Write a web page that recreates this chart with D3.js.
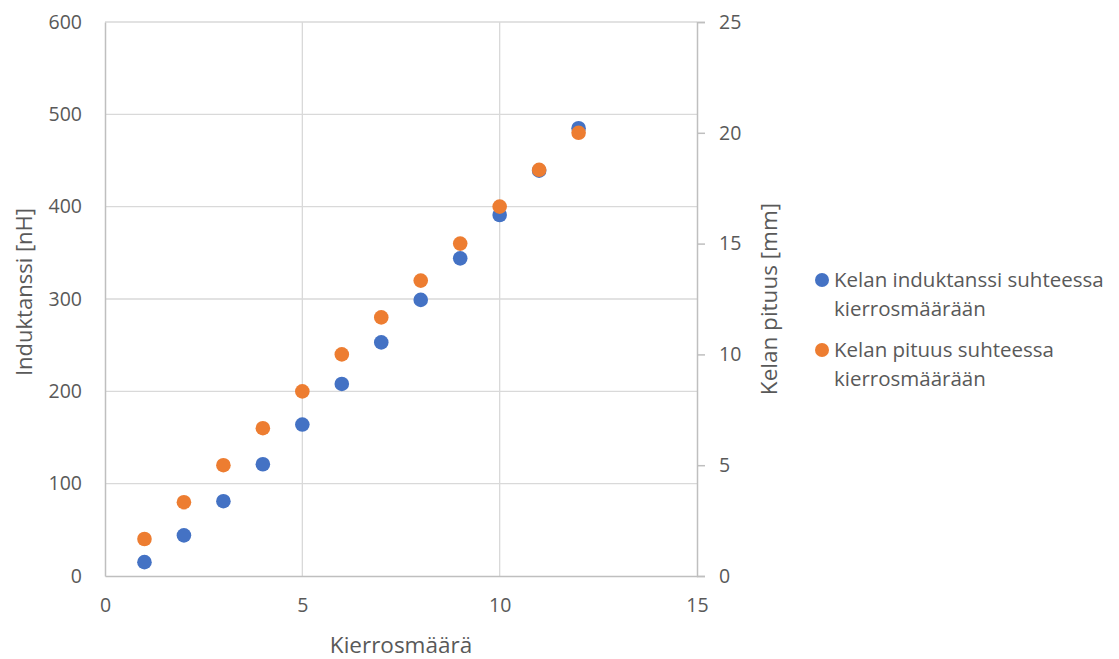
<!DOCTYPE html>
<html>
<head>
<meta charset="utf-8">
<script src="https://cdn.jsdelivr.net/npm/d3@7"></script>
<style>
  body { margin: 0; background: #fff; }
  text { font-family: "Open Sans", sans-serif; fill: #595959; }
</style>
</head>
<body>
<svg id="chart" width="1119" height="659"></svg>
<script>
// turns (kierrosmäärä)
var turns = [1, 2, 3, 4, 5, 6, 7, 8, 9, 10, 11, 12];
// inductance [nH], left axis
var inductance = [15, 44, 81, 121, 164, 208, 253, 299, 344, 391, 439, 485];
// coil length [mm], right axis
var coilLength = [1.67, 3.33, 5, 6.67, 8.33, 10, 11.67, 13.33, 15, 16.67, 18.33, 20];

var xTicks = [0, 5, 10, 15],
  leftTicks = [0, 100, 200, 300, 400, 500, 600],
  rightTicks = [0, 5, 10, 15, 20, 25];

var seriesNames = [
  ["Kelan induktanssi suhteessa", "kierrosmäärään"],
  ["Kelan pituus suhteessa", "kierrosmäärään"]
];
var colors = ["#4472C4", "#ED7D31"];

var svg = d3.select("#chart");
var plotLeft = 105, plotRight = 697, plotTop = 22, plotBottom = 576;

var xScale = d3.scaleLinear().domain([0, 15]).range([plotLeft, plotRight]);
var yLeft = d3.scaleLinear().domain([0, 600]).range([plotBottom, plotTop]);
var yRight = d3.scaleLinear().domain([0, 25]).range([plotBottom, plotTop]);

// gridlines
svg.append("g")
  .selectAll("line")
  .data(leftTicks.slice(1))
  .enter()
  .append("line")
  .attr("x1", plotLeft)
  .attr("x2", plotRight)
  .attr("y1", function (d) { return yLeft(d); })
  .attr("y2", function (d) { return yLeft(d); })
  .attr("stroke", "#d9d9d9")
  .attr("stroke-width", 1.3);

svg.append("g")
  .selectAll("line")
  .data(xTicks.slice(1, -1))
  .enter()
  .append("line")
  .attr("x1", function (d) { return xScale(d); })
  .attr("x2", function (d) { return xScale(d); })
  .attr("y1", plotTop)
  .attr("y2", plotBottom)
  .attr("stroke", "#d9d9d9")
  .attr("stroke-width", 1.3);

// axes
var xAxis = d3.axisBottom(xScale).tickValues(xTicks).tickSize(0).tickPadding(22);
var leftAxis = d3.axisLeft(yLeft).tickValues(leftTicks).tickSize(0).tickPadding(23);
var rightAxis = d3.axisRight(yRight).tickValues(rightTicks).tickSize(8).tickPadding(14);

function styleAxis(g) {
  g.select(".domain").attr("stroke", "#bfbfbf").attr("stroke-width", 1.5);
  g.selectAll(".tick line").attr("stroke", "#bfbfbf").attr("stroke-width", 1.5);
  g.selectAll(".tick text")
    .attr("fill", "#595959")
    .style("font-size", "19.5px")
    .style("font-family", "'Open Sans', sans-serif");
}

svg.append("g")
  .attr("transform", "translate(0," + plotBottom + ")")
  .call(xAxis)
  .call(styleAxis);

svg.append("g")
  .attr("transform", "translate(" + plotLeft + ",0)")
  .call(leftAxis)
  .call(styleAxis);

svg.append("g")
  .attr("transform", "translate(" + plotRight + ",0)")
  .call(rightAxis)
  .call(styleAxis);

// axis titles
svg.append("text")
  .attr("x", (plotLeft + plotRight) / 2)
  .attr("y", 645)
  .attr("dy", "0.35em")
  .attr("text-anchor", "middle")
  .style("font-size", "22.5px")
  .text("Kierrosmäärä");

svg.append("text")
  .attr("transform", "translate(24,292) rotate(-90)")
  .attr("dy", "0.35em")
  .attr("text-anchor", "middle")
  .style("font-size", "22px")
  .text("Induktanssi [nH]");

svg.append("text")
  .attr("transform", "translate(769,299) rotate(-90)")
  .attr("dy", "0.35em")
  .attr("text-anchor", "middle")
  .style("font-size", "22.5px")
  .text("Kelan pituus [mm]");

// points
svg.append("g")
  .selectAll("circle")
  .data(turns)
  .enter()
  .append("circle")
  .attr("cx", function (d) { return xScale(d); })
  .attr("cy", function (d, i) { return yLeft(inductance[i]); })
  .attr("r", 7.3)
  .attr("fill", colors[0]);

svg.append("g")
  .selectAll("circle")
  .data(turns)
  .enter()
  .append("circle")
  .attr("cx", function (d) { return xScale(d); })
  .attr("cy", function (d, i) { return yRight(coilLength[i]); })
  .attr("r", 7.3)
  .attr("fill", colors[1]);

// legend
var legend = svg.append("g").attr("transform", "translate(822,280)");
var entries = legend.selectAll("g")
  .data(seriesNames)
  .enter()
  .append("g")
  .attr("transform", function (d, i) { return "translate(0," + i * 70 + ")"; });

entries.append("circle")
  .attr("r", 7)
  .attr("fill", function (d, i) { return colors[i]; });

entries.each(function (lines) {
  var g = d3.select(this);
  lines.forEach(function (line, j) {
    g.append("text")
      .attr("x", 12)
      .attr("y", j * 29)
      .attr("dy", "0.35em")
      .style("font-size", "20.5px")
      .text(line);
  });
});
</script>
</body>
</html>
